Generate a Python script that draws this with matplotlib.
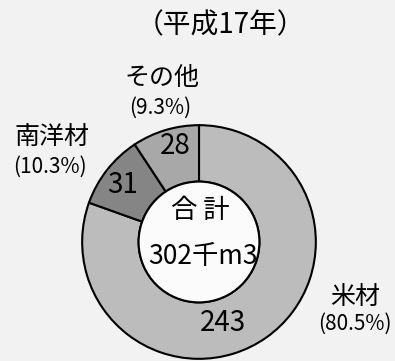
import matplotlib
matplotlib.use("Agg")
import matplotlib.pyplot as plt
from matplotlib.patches import Circle

plt.rcParams['font.family'] = ['Noto Sans CJK JP', 'DejaVu Sans']

# data
names = ["米材", "南洋材", "その他"]
values = [243, 31, 28]
shares = ["(80.5%)", "(10.3%)", "(9.3%)"]
colors = ["#bcbcbc", "#858585", "#a8a8a8"]
total = "302千m3"

W, H = 395, 361
fig = plt.figure(figsize=(W / 100, H / 100), dpi=100, facecolor="#f2f2f2")

cx, cy, r_out, r_in = 199, 242, 118, 61

# ring
pax = fig.add_axes([(cx - r_out) / W, (H - cy - r_out) / H,
                    2 * r_out / W, 2 * r_out / H])
pax.pie(values, colors=colors, startangle=90, counterclock=False, radius=1,
        wedgeprops=dict(width=1 - r_in / r_out, edgecolor="black", linewidth=1.5))
pax.add_patch(Circle((0, 0), r_in / r_out, facecolor="#fbfbfb", edgecolor="black",
                     linewidth=1.5))
pax.set_xlim(-1.01, 1.01)
pax.set_ylim(-1.01, 1.01)
pax.set_aspect("auto")
pax.axis("off")

# text layer on top, pixel coordinates
ax = fig.add_axes([0, 0, 1, 1])
ax.patch.set_alpha(0)
ax.set_xlim(0, W)
ax.set_ylim(H, 0)
ax.axis("off")

ax.text(220, 25, "（平成17年）", ha="center", va="center", fontsize=20)

# outer labels
ax.text(162, 78, names[2], ha="center", va="center", fontsize=18)
ax.text(160, 108, shares[2], ha="center", va="center", fontsize=15)
ax.text(52, 138, names[1], ha="center", va="center", fontsize=18)
ax.text(50, 167, shares[1], ha="center", va="center", fontsize=15)
ax.text(355, 297, names[0], ha="center", va="center", fontsize=18)
ax.text(355, 324, shares[0], ha="center", va="center", fontsize=15)

# values on the ring
ax.text(175, 146, str(values[2]), ha="center", va="center", fontsize=20)
ax.text(123, 185, str(values[1]), ha="center", va="center", fontsize=20)
ax.text(223, 323, str(values[0]), ha="center", va="center", fontsize=20)

# centre
ax.text(200, 211, "合 計", ha="center", va="center", fontsize=19)
ax.text(203, 256, total, ha="center", va="center", fontsize=19)

fig.savefig("out.png", dpi=100, facecolor=fig.get_facecolor())
